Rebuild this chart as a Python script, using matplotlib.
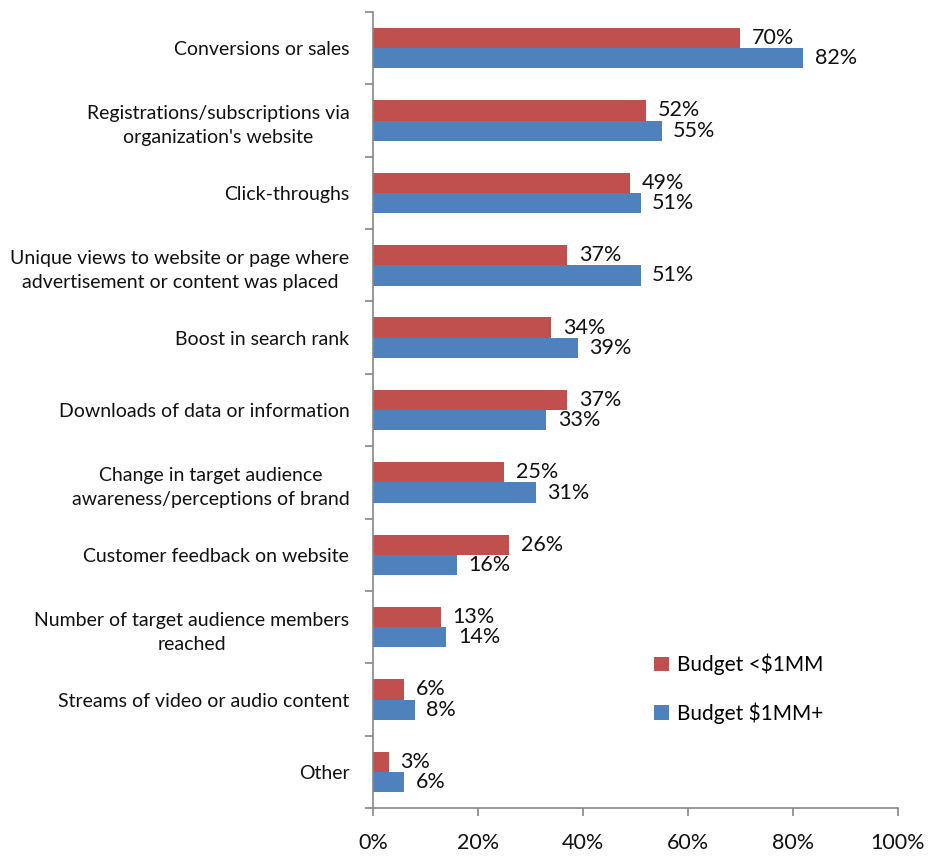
import matplotlib.pyplot as plt
import numpy as np

plt.rcParams['font.family'] = ['Lato', 'DejaVu Sans']

categories = [
    'Conversions or sales',
    'Registrations/subscriptions via\norganization\'s website',
    'Click-throughs',
    'Unique views to website or page where\nadvertisement or content was placed',
    'Boost in search rank',
    'Downloads of data or information',
    'Change in target audience\nawareness/perceptions of brand',
    'Customer feedback on website',
    'Number of target audience members\nreached',
    'Streams of video or audio content',
    'Other',
]
small_budget = [70, 52, 49, 37, 34, 37, 25, 26, 13, 6, 3]
large_budget = [82, 55, 51, 51, 39, 33, 31, 16, 14, 8, 6]
series_names = ['Budget <$1MM', 'Budget $1MM+']
xticks = [0, 20, 40, 60, 80, 100]

red = '#C0504D'
blue = '#4F81BD'
axis_grey = '#868686'
text_col = '#111111'

fig = plt.figure(figsize=(9.3, 8.56), dpi=100)
ax = fig.add_axes([0.401, 0.056, 0.5645, 0.930])

y = np.arange(len(categories))
h = 0.28
ax.barh(y - h / 2, small_budget, height=h, color=red, label=series_names[0])
ax.barh(y + h / 2, large_budget, height=h, color=blue, label=series_names[1])

for yi, v in zip(y, small_budget):
    ax.text(v + 2.2, yi - h / 2, f'{v}%', va='center', ha='left', fontsize=15.5, color=text_col)
for yi, v in zip(y, large_budget):
    ax.text(v + 2.2, yi + h / 2, f'{v}%', va='center', ha='left', fontsize=15.5, color=text_col)

ax.set_xlim(0, 100)
ax.set_ylim(len(categories) - 0.5, -0.5)
ax.set_xticks(xticks)
ax.set_xticklabels([f'{t}%' for t in xticks], fontsize=15.5, color=text_col)

# category labels sit between boundary ticks
ax.set_yticks(y)
ax.set_yticklabels(categories, fontsize=14, color=text_col, multialignment='center',
                   linespacing=1.5)
ax.tick_params(axis='y', length=0, pad=17)
ax.set_yticks(np.arange(len(categories) + 1) - 0.5, minor=True)
ax.tick_params(axis='y', which='minor', length=6, color=axis_grey, width=1.2)
ax.tick_params(axis='x', length=6, color=axis_grey, width=1.2, pad=12)

for side in ['top', 'right']:
    ax.spines[side].set_visible(False)
for side in ['left', 'bottom']:
    ax.spines[side].set_color(axis_grey)
    ax.spines[side].set_linewidth(1.2)

ax.legend(loc='center left', bbox_to_anchor=(0.5, 0.15), frameon=False, fontsize=15,
          handlelength=0.7, handleheight=0.7, labelspacing=1.3, handletextpad=0.4)

fig.savefig('out.png', dpi=100)
